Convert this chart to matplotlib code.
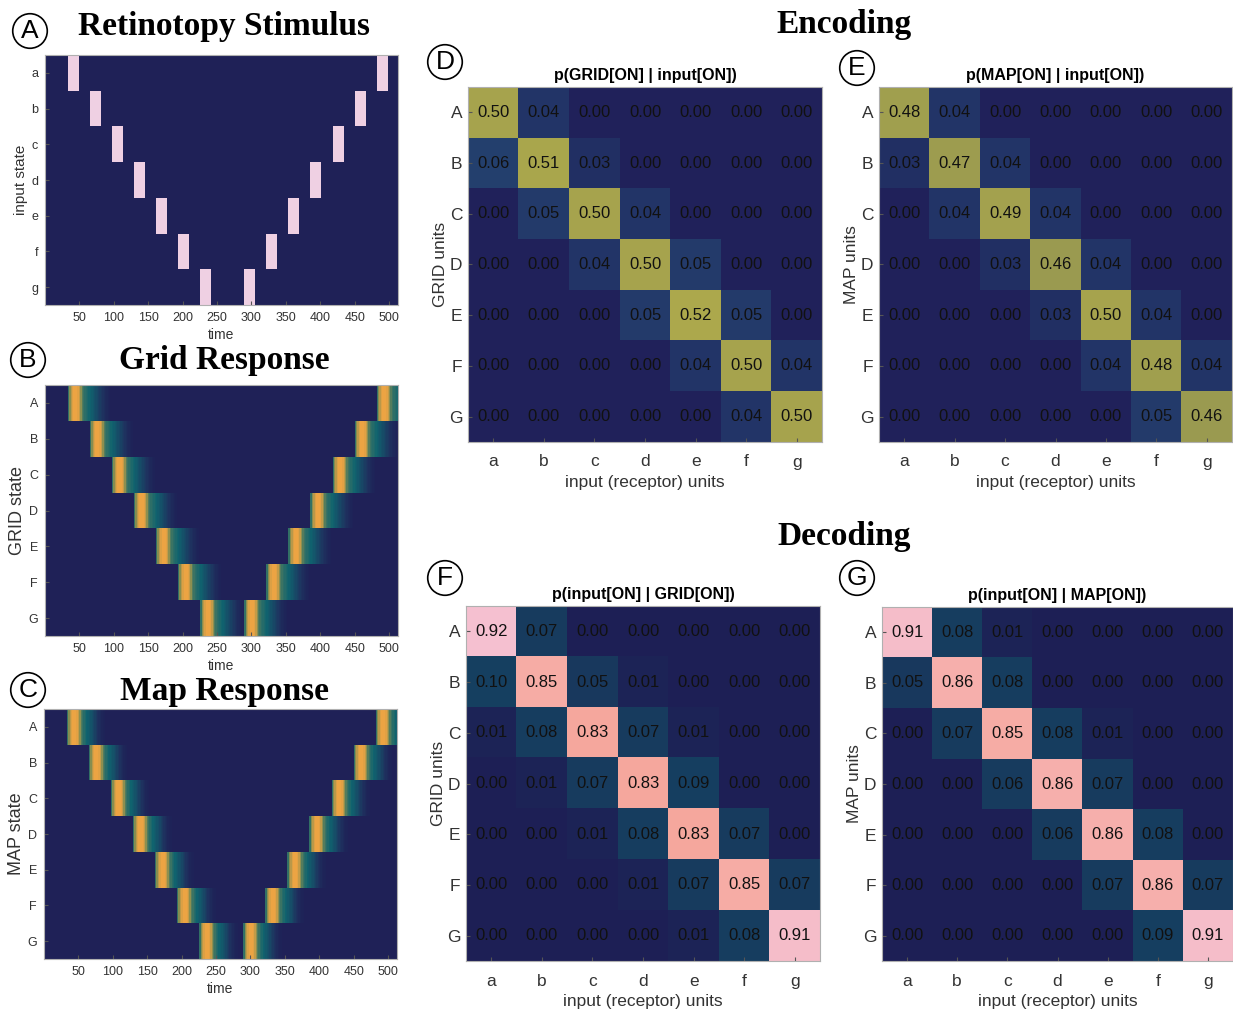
import numpy as np
import matplotlib
matplotlib.use("Agg")
import matplotlib.pyplot as plt
from matplotlib.colors import LinearSegmentedColormap, ListedColormap

plt.rcParams['font.family'] = ['Liberation Sans', 'DejaVu Sans']

# ---- data ----
input_labels = ['a', 'b', 'c', 'd', 'e', 'f', 'g']
unit_labels = ['A', 'B', 'C', 'D', 'E', 'F', 'G']
n_time = 512
time_ticks = [50, 100, 150, 200, 250, 300, 350, 400, 450, 500]

# stimulus onset times per input row (sweep down then back up)
stim_onsets = [[33, 481], [65, 449], [97, 417], [129, 385],
               [161, 353], [193, 321], [225, 289]]
stim_width = 16

# response profile after each onset, sampled every 2 time steps
grid_kernel = [0.5, 0.7, 0.85, 0.95, 1.0, 1.0, 1.0, 0.97, 0.88, 0.72,
               0.58, 0.52, 0.49, 0.47, 0.45, 0.43, 0.41, 0.38, 0.35, 0.32,
               0.29, 0.26, 0.23, 0.2, 0.17, 0.14, 0.11, 0.08, 0.06, 0.04, 0.02]
map_kernel = [0.5, 0.7, 0.85, 0.95, 1.0, 1.0, 1.0, 0.97, 0.88, 0.72,
              0.58, 0.52, 0.48, 0.45, 0.42, 0.39, 0.36, 0.33, 0.3, 0.26,
              0.22, 0.18, 0.14, 0.11, 0.08, 0.05, 0.03, 0.02]

enc_grid = [[0.50, 0.04, 0.00, 0.00, 0.00, 0.00, 0.00],
            [0.06, 0.51, 0.03, 0.00, 0.00, 0.00, 0.00],
            [0.00, 0.05, 0.50, 0.04, 0.00, 0.00, 0.00],
            [0.00, 0.00, 0.04, 0.50, 0.05, 0.00, 0.00],
            [0.00, 0.00, 0.00, 0.05, 0.52, 0.05, 0.00],
            [0.00, 0.00, 0.00, 0.00, 0.04, 0.50, 0.04],
            [0.00, 0.00, 0.00, 0.00, 0.00, 0.04, 0.50]]
enc_map = [[0.48, 0.04, 0.00, 0.00, 0.00, 0.00, 0.00],
           [0.03, 0.47, 0.04, 0.00, 0.00, 0.00, 0.00],
           [0.00, 0.04, 0.49, 0.04, 0.00, 0.00, 0.00],
           [0.00, 0.00, 0.03, 0.46, 0.04, 0.00, 0.00],
           [0.00, 0.00, 0.00, 0.03, 0.50, 0.04, 0.00],
           [0.00, 0.00, 0.00, 0.00, 0.04, 0.48, 0.04],
           [0.00, 0.00, 0.00, 0.00, 0.00, 0.05, 0.46]]
dec_grid = [[0.92, 0.07, 0.00, 0.00, 0.00, 0.00, 0.00],
            [0.10, 0.85, 0.05, 0.01, 0.00, 0.00, 0.00],
            [0.01, 0.08, 0.83, 0.07, 0.01, 0.00, 0.00],
            [0.00, 0.01, 0.07, 0.83, 0.09, 0.00, 0.00],
            [0.00, 0.00, 0.01, 0.08, 0.83, 0.07, 0.00],
            [0.00, 0.00, 0.00, 0.01, 0.07, 0.85, 0.07],
            [0.00, 0.00, 0.00, 0.00, 0.01, 0.08, 0.91]]
dec_map = [[0.91, 0.08, 0.01, 0.00, 0.00, 0.00, 0.00],
           [0.05, 0.86, 0.08, 0.00, 0.00, 0.00, 0.00],
           [0.00, 0.07, 0.85, 0.08, 0.01, 0.00, 0.00],
           [0.00, 0.00, 0.06, 0.86, 0.07, 0.00, 0.00],
           [0.00, 0.00, 0.00, 0.06, 0.86, 0.08, 0.00],
           [0.00, 0.00, 0.00, 0.00, 0.07, 0.86, 0.07],
           [0.00, 0.00, 0.00, 0.00, 0.00, 0.09, 0.91]]

# ---- colour maps ----
stim_cmap = ListedColormap(['#1f2157', '#efd0e3'])
resp_cmap = LinearSegmentedColormap.from_list('resp', [
    (0.0, '#1f2157'), (0.15, '#1e3460'), (0.42, '#10646f'),
    (0.68, '#7f8c52'), (1.0, '#eca443')])
enc_cmap = LinearSegmentedColormap.from_list('enc', [
    (0.0, '#20215a'), (0.12, '#24416f'), (1.0, '#aca84c')])
dec_cmap = LinearSegmentedColormap.from_list('dec', [
    (0.0, '#1d1f55'), (0.05, '#183a5e'), (0.12, '#144262'),
    (0.5, '#b07a6a'), (0.84, '#f7a99f'), (0.93, '#f5c3d6'), (1.0, '#f5c8dc')])


def build_stim():
    img = np.zeros((7, n_time))
    for r, ons in enumerate(stim_onsets):
        for on in ons:
            img[r, on:on + stim_width] = 1
    return img


def build_response(kernel):
    img = np.zeros((7, n_time))
    k = np.repeat(kernel, 2)
    for r, ons in enumerate(stim_onsets):
        for on in ons:
            seg = k[:n_time - on]
            img[r, on:on + len(seg)] = np.maximum(img[r, on:on + len(seg)], seg)
    return img


W, H = 1233, 1013
fig = plt.figure(figsize=(W / 100, H / 100), dpi=100)


def px_axes(x0, y0, x1, y1):
    return fig.add_axes([x0 / W, 1 - y1 / H, (x1 - x0) / W, (y1 - y0) / H])


def style_spines(ax):
    for s in ax.spines.values():
        s.set_color('#b0b0b0')
        s.set_linewidth(0.8)
    ax.tick_params(direction='in', color='#555555', labelcolor='#333333', length=3)


def circle_label(x, y, letter):
    fig.text(x / W, 1 - y / H, letter, fontsize=19, ha='center', va='center',
             bbox=dict(boxstyle='circle,pad=0.2', fc='white', ec='black', lw=1.2))


def big_title(x, y, s):
    fig.text(x / W, 1 - y / H, s, family='Liberation Serif', fontweight='bold',
             fontsize=24, ha='center', va='center')


def time_panel(box, img, cmap, ylab, ylab_size, yticks, title, title_y):
    ax = px_axes(*box)
    ax.imshow(img, cmap=cmap, vmin=0, vmax=1, aspect='auto',
              interpolation='nearest', extent=(0.5, n_time + 0.5, 7.5, 0.5))
    ax.set_xticks(time_ticks)
    ax.set_yticks(range(1, 8))
    ax.set_yticklabels(yticks)
    ax.tick_params(labelsize=9, pad=5)
    ax.set_xlabel('time', fontsize=10, color='#333333', labelpad=3)
    ax.set_ylabel(ylab, fontsize=ylab_size, color='#333333', labelpad=2)
    style_spines(ax)
    big_title(224, title_y, title)
    return ax


def matrix_panel(box, mat, cmap, vmax, title, ylab):
    ax = px_axes(*box)
    m = np.array(mat)
    ax.imshow(m, cmap=cmap, vmin=0, vmax=vmax, aspect='auto', interpolation='nearest')
    for i in range(7):
        for j in range(7):
            ax.text(j, i, f"{m[i, j]:.2f}", ha='center', va='center',
                    fontsize=12, color='#111111')
    ax.set_xticks(range(7))
    ax.set_xticklabels(input_labels)
    ax.set_yticks(range(7))
    ax.set_yticklabels(unit_labels)
    ax.tick_params(labelsize=12.5)
    ax.tick_params(axis='x', pad=9)
    ax.tick_params(axis='y', pad=4)
    ax.set_xlabel('input (receptor) units', fontsize=12.5, color='#333333', labelpad=4)
    ax.set_ylabel(ylab, fontsize=12.5, color='#333333', labelpad=1)
    ax.set_title(title, fontsize=11.5, fontweight='bold', pad=5)
    style_spines(ax)
    return ax


time_panel((45, 55, 398, 305), build_stim(), stim_cmap, 'input state', 11,
           input_labels, 'Retinotopy Stimulus', 26)
time_panel((45, 385, 398, 636), build_response(grid_kernel), resp_cmap, 'GRID state', 13,
           unit_labels, 'Grid Response', 361)
time_panel((44, 709, 397, 959), build_response(map_kernel), resp_cmap, 'MAP state', 13,
           unit_labels, 'Map Response', 691)

matrix_panel((468, 87, 822, 442), enc_grid, enc_cmap, 0.52,
             'p(GRID[ON] | input[ON])', 'GRID units')
matrix_panel((879, 87, 1232, 442), enc_map, enc_cmap, 0.52,
             'p(MAP[ON] | input[ON])', 'MAP units')
matrix_panel((466, 606, 820, 961), dec_grid, dec_cmap, 1.0,
             'p(input[ON] | GRID[ON])', 'GRID units')
matrix_panel((882, 607, 1233, 961), dec_map, dec_cmap, 1.0,
             'p(input[ON] | MAP[ON])', 'MAP units')

big_title(844, 25, 'Encoding')
big_title(844, 536, 'Decoding')

for x, y, l in [(30, 31, 'A'), (28, 360, 'B'), (28, 690, 'C'), (445, 62, 'D'),
                (857, 68, 'E'), (445, 578, 'F'), (857, 578, 'G')]:
    circle_label(x, y, l)

fig.savefig('out.png', dpi=100, facecolor='white')
